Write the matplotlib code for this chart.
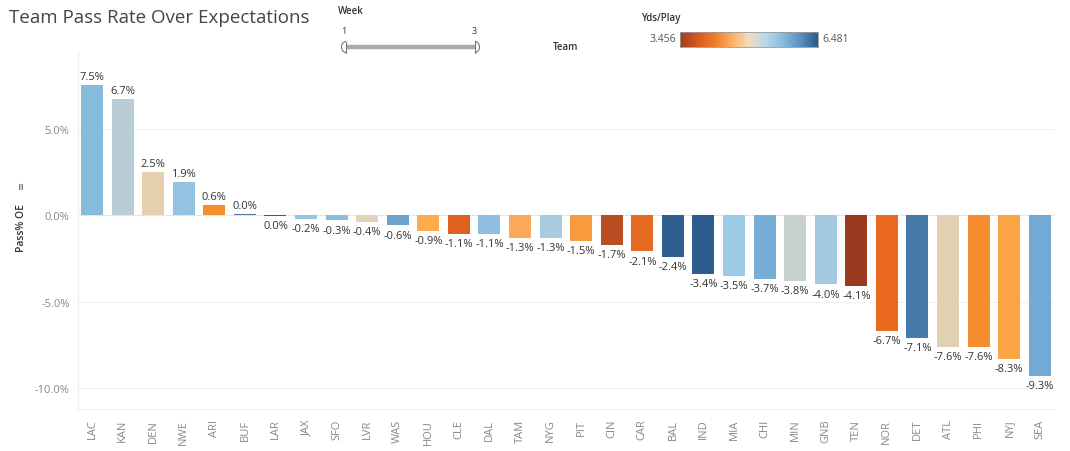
import numpy as np
import matplotlib
matplotlib.use('Agg')
import matplotlib.pyplot as plt
from matplotlib.colors import LinearSegmentedColormap
from matplotlib.patches import Arc

plt.rcParams['font.family'] = ['Open Sans', 'DejaVu Sans']

# Data
teams = ["LAC", "KAN", "DEN", "NWE", "ARI", "BUF", "LAR", "JAX", "SFO", "LVR", "WAS",
         "HOU", "CLE", "DAL", "TAM", "NYG", "PIT", "CIN", "CAR", "BAL", "IND", "MIA",
         "CHI", "MIN", "GNB", "TEN", "NOR", "DET", "ATL", "PHI", "NYJ", "SEA"]
pass_oe = [7.5, 6.7, 2.5, 1.9, 0.6, 0.04, -0.04, -0.2, -0.3, -0.4, -0.6,
           -0.9, -1.1, -1.1, -1.3, -1.3, -1.5, -1.7, -2.1, -2.4, -3.4, -3.5,
           -3.7, -3.8, -4.0, -4.1, -6.7, -7.1, -7.6, -7.6, -8.3, -9.3]
bar_colors = ["#86bbdc", "#b8cdd6", "#e5cfad", "#92c4e2", "#f28e2b", "#4a76a6", "#2f5f8f",
              "#93c5e3", "#8bbede", "#e2d3b8", "#6fa3cf", "#fdab4b", "#df6020", "#8fbfe0",
              "#fba95a", "#a9cbe0", "#f99a3c", "#b84e22", "#e46a22", "#2f5f8f", "#2c5d8e",
              "#9ccbe6", "#76aed7", "#c6d2d0", "#a4cae2", "#9a3b20", "#e8691f", "#4779a8",
              "#e2d0b2", "#f58d2f", "#fba446", "#74a9d3"]
y_ticks = [-10, -5, 0, 5]
cbar_colors = ["#9e3d22", "#d9581e", "#ef7d28", "#fbb062", "#f4dcc0", "#b6d8ec",
               "#86bbdc", "#5b8fc0", "#2b5c8a"]
yds_min, yds_max = 3.456, 6.481

fig = plt.figure(figsize=(10.70, 4.52), dpi=100)
ax = fig.add_axes([78/1070, 1-410/452, (1055-78)/1070, (410-52)/452])

x = np.arange(len(teams))
ax.bar(x, pass_oe, width=0.72, color=bar_colors, zorder=3)
ax.axhline(0, color='#dddddd', lw=0.8, ls=(0, (1, 1)), zorder=2)

for xi, v in zip(x, pass_oe):
    txt = f"{abs(v):.1f}%" if abs(v) < 0.05 else f"{v:.1f}%"
    if v >= 0.03:
        ax.text(xi, v + 0.18, txt, ha='center', va='bottom', fontsize=8, color='#333333')
    else:
        ax.text(xi, v - 0.25, txt, ha='center', va='top', fontsize=8, color='#333333')

ax.set_xlim(-0.46, len(teams) - 0.5)
ax.set_ylim(-11.2, 9.48)
ax.set_yticks(y_ticks)
ax.set_yticklabels([f"{t:.1f}%" for t in y_ticks])
ax.set_xticks(x)
ax.set_xticklabels(teams, rotation=90)
ax.tick_params(axis='both', length=0, labelsize=8, labelcolor='#888888')
ax.tick_params(axis='y', pad=6)
ax.tick_params(axis='x', pad=7)
ax.grid(axis='y', color='#f0f0f0', lw=0.8, zorder=0)
for s in ['top', 'right']:
    ax.spines[s].set_visible(False)
ax.spines['left'].set_color('#eeeeee')
ax.spines['bottom'].set_color('#eeeeee')
fig.text(21/1070, 1-228/452, "Pass% OE", fontsize=7.5, color='#333333', rotation=90,
         ha='center', va='center', weight='semibold')
fig.text(21/1070, 1-185/452, "\u2261", fontsize=7, color='#666666', rotation=90,
         ha='center', va='center')

# Title
fig.text(9/1070, 1-18/452, "Team Pass Rate Over Expectations", fontsize=13.5, color='#444444',
         ha='left', va='center')

# Week slider
fig.text(338/1070, 1-11/452, "Week", fontsize=7, color='#333333', ha='left', va='center',
         weight='semibold')
fig.text(344/1070, 1-31/452, "1", fontsize=6.5, color='#333333', ha='center', va='center')
fig.text(474/1070, 1-31/452, "3", fontsize=6.5, color='#333333', ha='center', va='center')
sax = fig.add_axes([335/1070, 1-58/452, 150/1070, 20/452])
sax.set_xlim(335, 485)
sax.set_ylim(58, 38)
sax.axis('off')
sax.plot([346, 475], [48, 48], color='#aaaaaa', lw=3.2, solid_capstyle='butt')
sax.plot([346, 346], [42.5, 53.5], color='#777777', lw=0.8)
sax.plot([475, 475], [42.5, 53.5], color='#777777', lw=0.8)
sax.add_patch(Arc((346, 48), 9, 11, theta1=90, theta2=270, color='#777777', lw=0.8))
sax.add_patch(Arc((475, 48), 9, 11, theta1=-90, theta2=90, color='#777777', lw=0.8))
fig.text(553/1070, 1-47/452, "Team", fontsize=7, color='#333333', ha='left', va='center',
         weight='semibold')

# Color legend
fig.text(641/1070, 1-18/452, "Yds/Play", fontsize=7, color='#333333', ha='left', va='center',
         weight='semibold')
cmap = LinearSegmentedColormap.from_list('ob', cbar_colors)
cax = fig.add_axes([680/1070, 1-48/452, 138/1070, 15/452])
cax.imshow(np.linspace(0, 1, 256)[None, :], aspect='auto', cmap=cmap)
cax.set_xticks([])
cax.set_yticks([])
for s in cax.spines.values():
    s.set_color('#999999')
    s.set_linewidth(0.6)
fig.text(676/1070, 1-40/452, f"{yds_min}", fontsize=7.5, color='#555555', ha='right', va='center')
fig.text(822/1070, 1-40/452, f"{yds_max}", fontsize=7.5, color='#555555', ha='left', va='center')

fig.savefig('out.png', dpi=100)
